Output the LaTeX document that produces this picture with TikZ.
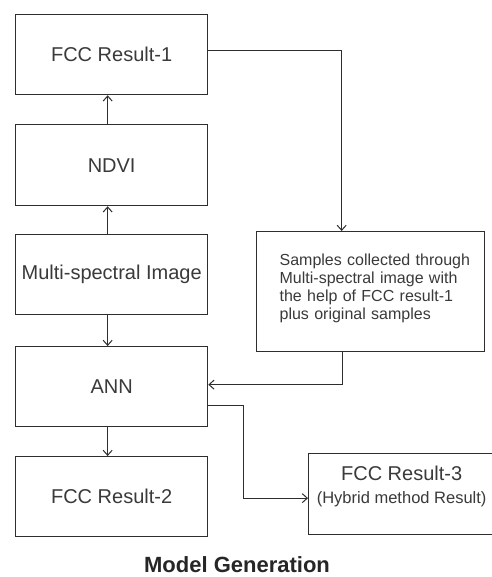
\documentclass[tikz,border=0pt]{standalone}
\usepackage{fontspec}
\setmainfont{Liberation Sans}
\usetikzlibrary{arrows.meta}
\definecolor{ln}{HTML}{2E2E2E}
\definecolor{tx}{HTML}{3A3A3A}
\begin{document}
\begin{tikzpicture}[x=1pt,y=-1pt,
  box/.style={draw=ln, line width=1.3pt, inner sep=0pt, anchor=north west,
    font=\fontsize{20}{22}\selectfont, text=tx},
  arr/.style={draw=ln, line width=1pt, -{Straight Barb[length=5pt,width=9pt]}}]
\useasboundingbox (0,0) rectangle (491,577);
\fill[white] (0,0) rectangle (491,577);
\node[box, minimum width=192pt, minimum height=80pt] (fcc1) at (15,14) {FCC Result-1};
\node[box, minimum width=192pt, minimum height=81pt] (ndvi) at (15,124) {NDVI};
\node[box, minimum width=192pt, minimum height=80pt] (ms) at (15,234) {Multi-spectral Image};
\node[box, minimum width=192pt, minimum height=80pt] (ann) at (15,346) {ANN};
\node[box, minimum width=192pt, minimum height=80pt] (fcc2) at (15,456) {FCC Result-2};
\node[box, minimum width=228pt, minimum height=120pt, text width=206pt, align=left,
  font=\fontsize{16}{18}\selectfont] (samp) at (256,231)
  {\hspace*{12pt}Samples collected through\\\hspace*{12pt}Multi-spectral image with\\\hspace*{12pt}the help of FCC result-1\\\hspace*{12pt}plus original samples\\[-8pt]\mbox{}};
\node[box, minimum width=186pt, minimum height=81pt, align=center] (fcc3) at (308,453)
  {FCC Result-3\\[1pt]{\fontsize{16.5}{18}\selectfont (Hybrid method Result)}\\[-4pt]};
\node[font=\bfseries\fontsize{22}{24}\selectfont, text=black!85, anchor=base, inner sep=1pt] (title) at (237,572) {Model Generation};
\draw[arr] ([xshift=-4pt]ndvi.north) -- ([xshift=-4pt]fcc1.south);
\draw[arr] ([xshift=-4pt]ms.north) -- ([xshift=-4pt]ndvi.south);
\draw[arr] ([xshift=-4pt]ms.south) -- ([xshift=-4pt]ann.north);
\draw[arr] ([xshift=-4pt]ann.south) -- ([xshift=-4pt]fcc2.north);
\draw[arr] ([yshift=4pt]fcc1.east) -| ([xshift=-29pt]samp.north);
\draw[arr] ([xshift=-28pt]samp.south) |- ([yshift=2pt]ann.east);
\draw[arr] ([yshift=-19pt]ann.east) -- ++(35,0) |- ([yshift=-4pt]fcc3.west);
\end{tikzpicture}
\end{document}
